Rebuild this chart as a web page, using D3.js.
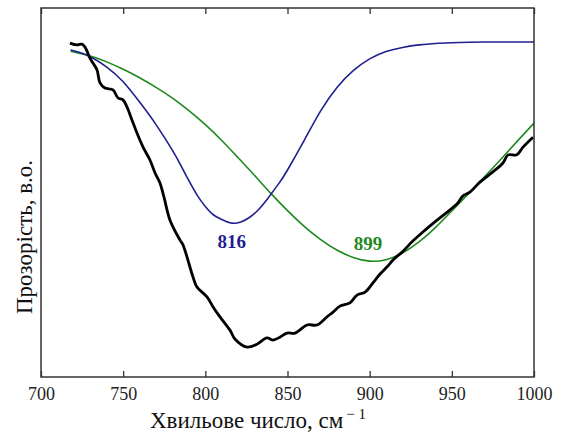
<!DOCTYPE html>
<html lang="uk">
<head>
<meta charset="UTF-8">
<title>Спектр</title>
<script src="https://cdn.jsdelivr.net/npm/d3@7"></script>
<style>
  body { margin: 0; background: #fff; }
  text { font-family: "Liberation Serif", "DejaVu Serif", serif; }
</style>
</head>
<body>
<svg width="561" height="434"></svg>
<script>
// x ticks
var xTicks = [700, 750, 800, 850, 900, 950, 1000];

// measured spectrum (wavenumber, transmittance a.u.)
var blackSpectrum = [
  [717.6,0.905],[721.9,0.900],[724.9,0.902],[726.8,0.894],[729.8,0.864],[731.6,0.851],
  [734.1,0.832],[735.9,0.797],[738.9,0.783],[743.8,0.778],[746.9,0.756],[749.9,0.751],
  [752.3,0.732],[755.4,0.696],[758.4,0.661],[762.1,0.623],[766.3,0.588],[769.4,0.553],
  [772.4,0.526],[774.8,0.488],[778.5,0.425],[784.6,0.371],[786.4,0.358],[792.5,0.271],
  [794.9,0.244],[801.0,0.217],[804.7,0.190],[808.9,0.163],[815.0,0.127],[818.0,0.103],
  [825.4,0.081],[831.4,0.089],[837.5,0.106],[841.2,0.100],[845.4,0.108],[849.7,0.119],
  [854.6,0.119],[861.9,0.141],[867.9,0.141],[874.0,0.163],[877.7,0.176],[881.9,0.192],
  [888.0,0.201],[892.3,0.222],[897.2,0.230],[902.0,0.255],[906.3,0.279],[910.5,0.298],
  [914.2,0.317],[920.3,0.341],[926.4,0.369],[932.4,0.393],[941.0,0.425],[948.9,0.453],
  [953.7,0.472],[956.8,0.491],[961.0,0.501],[967.1,0.528],[975.0,0.556],[981.1,0.580],
  [984.2,0.602],[989.6,0.602],[993.3,0.623],[999.4,0.650]
];

// fitted band at 816
var blueBand = [
  [718,0.886],[728,0.872],[740,0.840],[750,0.800],[760,0.745],[770,0.684],[780,0.614],
  [785,0.574],[790,0.532],[795,0.493],[800,0.462],[805,0.439],[810,0.427],[816,0.417],
  [822,0.421],[827,0.433],[832,0.452],[838,0.484],[845,0.526],[850,0.561],[860,0.640],
  [870,0.720],[880,0.784],[890,0.830],[900,0.862],[910,0.882],[920,0.893],[930,0.900],
  [940,0.904],[950,0.906],[970,0.908],[1000,0.908]
];

// fitted band at 899
var greenBand = [
  [718,0.883],[730,0.870],[740,0.854],[750,0.834],[760,0.811],[770,0.785],[780,0.756],
  [790,0.722],[800,0.684],[810,0.641],[820,0.594],[830,0.546],[840,0.497],[850,0.451],
  [860,0.409],[870,0.373],[880,0.344],[890,0.324],[900,0.314],[910,0.318],[920,0.336],
  [930,0.366],[940,0.405],[950,0.450],[960,0.496],[970,0.543],[980,0.591],[990,0.640],
  [1000,0.688]
];

// peak labels
var peakLabels = [
  {text: "816", x: 816, y: 0.35, color: "#1f1f8f"},
  {text: "899", x: 899, y: 0.345, color: "#1e8a1e"}
];

var svg = d3.select("svg");
var margin = {top: 8, right: 27, bottom: 57, left: 41};
var width = 561 - margin.left - margin.right;
var height = 434 - margin.top - margin.bottom;

var g = svg.append("g").attr("transform", "translate(" + margin.left + "," + margin.top + ")");

var x = d3.scaleLinear().domain([700, 1000]).range([0, width]);
var y = d3.scaleLinear().domain([0, 1]).range([height, 0]);

var smooth = d3.line()
  .x(function(d) { return x(d[0]); })
  .y(function(d) { return y(d[1]); })
  .curve(d3.curveNatural);

var rough = d3.line()
  .x(function(d) { return x(d[0]); })
  .y(function(d) { return y(d[1]); })
  .curve(d3.curveCatmullRom);

g.append("path").datum(greenBand)
  .attr("fill", "none").attr("stroke", "#1e8a1e").attr("stroke-width", 1.6)
  .attr("d", smooth);

g.append("path").datum(blueBand)
  .attr("fill", "none").attr("stroke", "#1f1f8f").attr("stroke-width", 1.6)
  .attr("d", smooth);

g.append("path").datum(blackSpectrum)
  .attr("fill", "none").attr("stroke", "#000").attr("stroke-width", 2.8)
  .attr("stroke-linejoin", "round")
  .attr("d", rough);

// axes (ticks pointing inward)
var bottomAxis = g.append("g").attr("transform", "translate(0," + height + ")")
  .call(d3.axisBottom(x).tickValues(xTicks).tickSize(-6).tickPadding(10).tickFormat(d3.format("d")));
var topAxis = g.append("g")
  .call(d3.axisTop(x).tickValues(xTicks).tickSize(-6).tickFormat(""));

[bottomAxis, topAxis].forEach(function(a) {
  a.select(".domain").remove();
  a.selectAll(".tick line").attr("stroke", "#333").attr("stroke-width", 1.3);
});
bottomAxis.selectAll(".tick text")
  .style("font-family", "Liberation Serif, serif")
  .style("font-size", "18px")
  .attr("fill", "#222");

g.append("rect")
  .attr("width", width).attr("height", height)
  .attr("fill", "none").attr("stroke", "#333").attr("stroke-width", 1.5);

// peak labels
g.selectAll(".peak").data(peakLabels).join("text")
  .attr("class", "peak")
  .attr("x", function(d) { return x(d.x); })
  .attr("y", function(d) { return y(d.y); })
  .attr("text-anchor", "middle")
  .attr("fill", function(d) { return d.color; })
  .style("font-size", "19px")
  .style("font-weight", "bold")
  .text(function(d) { return d.text; });

// axis titles
var xt = svg.append("text")
  .attr("x", 258).attr("y", 428)
  .attr("text-anchor", "middle")
  .style("font-size", "23px")
  .attr("fill", "#111");
xt.append("tspan").text("Хвильове число, см");
xt.append("tspan").attr("dx", 3).attr("dy", -9).style("font-size", "15px").text("− 1");

svg.append("text")
  .attr("transform", "translate(32,237) rotate(-90)")
  .attr("text-anchor", "middle")
  .style("font-size", "23px")
  .attr("fill", "#111")
  .text("Прозорість, в.о.");
</script>
</body>
</html>
